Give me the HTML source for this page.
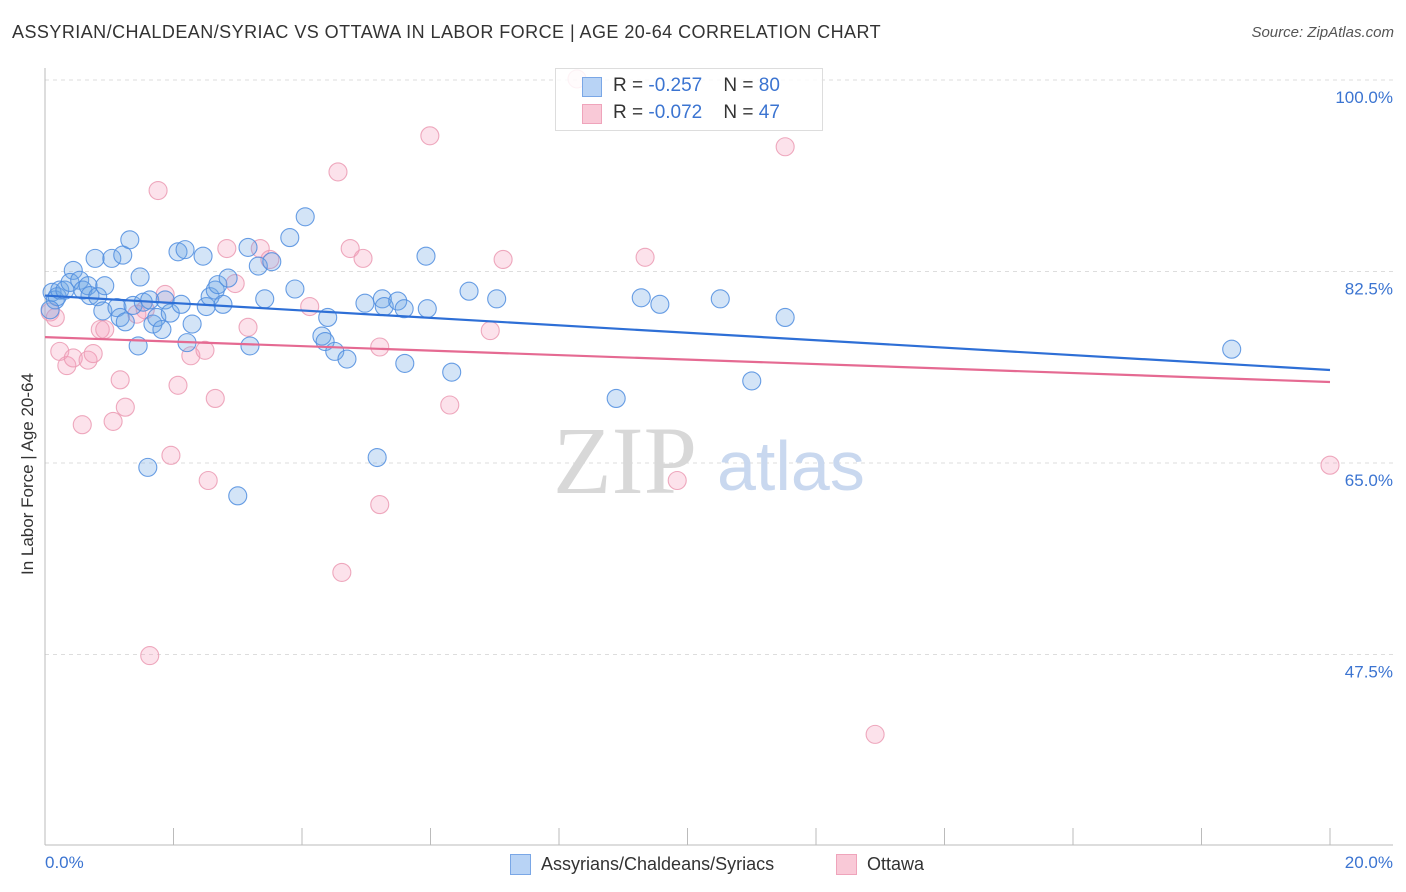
<!DOCTYPE html>
<html><head><meta charset="utf-8">
<style>
body{margin:0;background:#fff;font-family:"Liberation Sans",sans-serif;}
#wrap{position:relative;width:1406px;height:892px;overflow:hidden;}
.t{position:absolute;white-space:nowrap;}
</style></head><body>
<div id="wrap">
<div class="t" style="left:12px;top:22px;font-size:18px;color:#333;letter-spacing:0.45px">ASSYRIAN/CHALDEAN/SYRIAC VS OTTAWA IN LABOR FORCE | AGE 20-64 CORRELATION CHART</div>
<div class="t" style="right:12px;top:24px;font-size:15px;color:#555;font-style:italic">Source: ZipAtlas.com</div>
<svg id="plot" width="1406" height="892" style="position:absolute;left:0;top:0"></svg>
</div>
<script>
const blueX=[0.11,0.16,0.19,0.08,0.23,0.31,0.44,0.39,0.54,0.59,0.67,0.70,0.78,0.82,0.90,0.93,1.04,1.12,1.17,1.21,1.25,1.32,1.37,1.45,1.48,1.53,1.60,1.63,1.68,1.74,1.82,1.87,1.95,2.07,2.12,2.18,2.21,2.29,2.46,2.51,2.57,2.65,2.69,2.77,2.85,3.00,3.16,3.19,3.32,3.42,3.53,3.81,3.89,4.05,4.31,4.36,4.40,4.51,4.70,4.98,5.17,5.25,5.28,5.49,5.59,5.60,5.95,5.93,6.33,6.60,7.03,8.89,9.28,9.57,10.51,11.00,11.52,18.47];
const blueY=[80.6,79.9,80.2,79.0,80.8,80.8,82.6,81.5,81.7,80.8,81.2,80.3,83.7,80.2,78.9,81.2,83.7,79.2,78.3,84.0,77.9,85.4,79.4,75.7,82.0,79.7,64.6,79.9,77.7,78.3,77.2,79.9,78.7,84.3,79.5,84.5,76.0,77.7,83.9,79.3,80.2,80.8,81.3,79.5,81.9,62.0,84.7,75.7,83.0,80.0,83.4,85.6,80.9,87.5,76.6,76.1,78.3,75.2,74.5,79.6,65.5,80.0,79.3,79.8,79.1,74.1,79.1,83.9,73.3,80.7,80.0,70.9,80.1,79.5,80.0,72.5,78.3,75.4];
const pinkX=[0.08,0.16,0.23,0.34,0.44,0.58,0.67,0.75,0.86,0.93,1.06,1.17,1.25,1.43,1.56,1.63,1.76,1.87,1.96,2.07,2.27,2.49,2.54,2.65,2.83,2.96,3.16,3.35,3.50,4.12,4.56,4.62,4.75,4.95,5.21,5.21,5.99,6.30,6.93,7.13,8.28,9.34,9.84,11.52,12.92,20.0];
const pinkY=[78.8,78.3,75.2,73.9,74.6,68.5,74.4,75.0,77.2,77.2,68.8,72.6,70.1,78.6,79.0,47.4,89.9,80.4,65.7,72.1,74.8,75.3,63.4,70.9,84.6,81.4,77.4,84.6,83.6,79.3,91.6,55.0,84.6,83.7,75.6,61.2,94.9,70.3,77.1,83.6,100.1,83.8,63.4,93.9,40.2,64.8];
const blueLine=[80.3,73.5];
const pinkLine=[76.5,72.4];
const yTicks=[100,82.5,65,47.5];
const yTickLabels=["100.0%","82.5%","65.0%","47.5%"];

const NS="http://www.w3.org/2000/svg";
const svg=document.getElementById('plot');
const X0=45,X1=1330,Y100=80,PXPER=191.5/17.5;
const sx=v=>X0+(v/20)*(X1-X0);
const sy=v=>Y100+(100-v)*PXPER;
function mk(tag,attrs,parent){const e=document.createElementNS(NS,tag);for(const k in attrs)e.setAttribute(k,attrs[k]);(parent||svg).appendChild(e);return e;}

yTicks.forEach((t,i)=>{
  const g=mk('line',{x1:X0,x2:1393,y1:sy(t),y2:sy(t),stroke:'#ddd','stroke-dasharray':'4,4','stroke-width':1});
  
  
  const tx=mk('text',{x:1393,y:sy(t)+23,'text-anchor':'end','font-size':17,fill:'#3b74d1','font-family':'Liberation Sans, sans-serif'});
  tx.textContent=yTickLabels[i];
  
  
});
const ya=mk('line',{x1:X0,x2:X0,y1:68,y2:845,stroke:'#bbb'});


const xa=mk('line',{x1:X0,x2:1393,y1:845,y2:845,stroke:'#bbb'});


for(let i=0;i<=10;i++){
  const tk=mk('line',{x1:sx(i*2),x2:sx(i*2),y1:828,y2:845,stroke:'#bbb'});
  
  
}
const wm=mk('text',{x:553,y:493,'font-size':96,fill:'#d8d8d8','font-family':'Liberation Serif, serif'});
wm.textContent='ZIP';


const wm2=mk('text',{x:717,y:490,'font-size':70,fill:'#c9d8ef','font-family':'Liberation Sans, sans-serif'});
wm2.textContent='atlas';



function pts(xs,ys,fill,stroke,name){
  xs.forEach((x,i)=>{
    const c=mk('circle',{cx:sx(x),cy:sy(ys[i]),r:9,fill:fill,stroke:stroke,'stroke-width':1.1,'stroke-opacity':0.85});
    
    
  });
}
pts(pinkX,pinkY,'rgba(244,160,188,0.3)','#eb9ab3','ottawa-point');
pts(blueX,blueY,'rgba(110,165,230,0.3)','#4f8ddf','assyrian-point');
const bl=mk('line',{x1:sx(0),x2:sx(20),y1:sy(blueLine[0]),y2:sy(blueLine[1]),stroke:'#2e6fd6','stroke-width':2.2});


const pl=mk('line',{x1:sx(0),x2:sx(20),y1:sy(pinkLine[0]),y2:sy(pinkLine[1]),stroke:'#e56a92','stroke-width':2.2});


</script>
<div class="t" style="left:45px;top:853px;font-size:17px;color:#3b74d1">0.0%</div>
<div class="t" style="right:13px;top:853px;font-size:17px;color:#3b74d1">20.0%</div>
<div class="t" style="left:18px;top:575px;font-size:17px;color:#333;transform:rotate(-90deg);transform-origin:0 0">In Labor Force | Age 20-64</div>
<div style="position:absolute;left:555px;top:68px;width:266px;height:61px;border:1px solid #ddd;background:rgba(255,255,255,0.85);font-size:19px;">
 <div style="position:absolute;left:26px;top:8px;width:18px;height:18px;background:#b8d3f5;border:1px solid #7aa7e6"></div>
 <div class="t" style="left:57px;top:6px;color:#333">R = <span style="color:#3b74d1">-0.257</span>&nbsp;&nbsp;&nbsp; N = <span style="color:#3b74d1">80</span></div>
 <div style="position:absolute;left:26px;top:35px;width:18px;height:18px;background:#f9c9d7;border:1px solid #efa4bb"></div>
 <div class="t" style="left:57px;top:33px;color:#333">R = <span style="color:#3b74d1">-0.072</span>&nbsp;&nbsp;&nbsp; N = <span style="color:#3b74d1">47</span></div>
</div>
<div style="position:absolute;left:510px;top:854px;font-size:18px;color:#333">
 <div style="position:absolute;left:0;top:0;width:19px;height:19px;background:#b8d3f5;border:1px solid #7aa7e6"></div>
 <span class="t" style="left:31px;top:0">Assyrians/Chaldeans/Syriacs</span>
</div>
<div style="position:absolute;left:836px;top:854px;font-size:18px;color:#333">
 <div style="position:absolute;left:0;top:0;width:19px;height:19px;background:#f9c9d7;border:1px solid #efa4bb"></div>
 <span class="t" style="left:31px;top:0">Ottawa</span>
</div>
</body></html>
